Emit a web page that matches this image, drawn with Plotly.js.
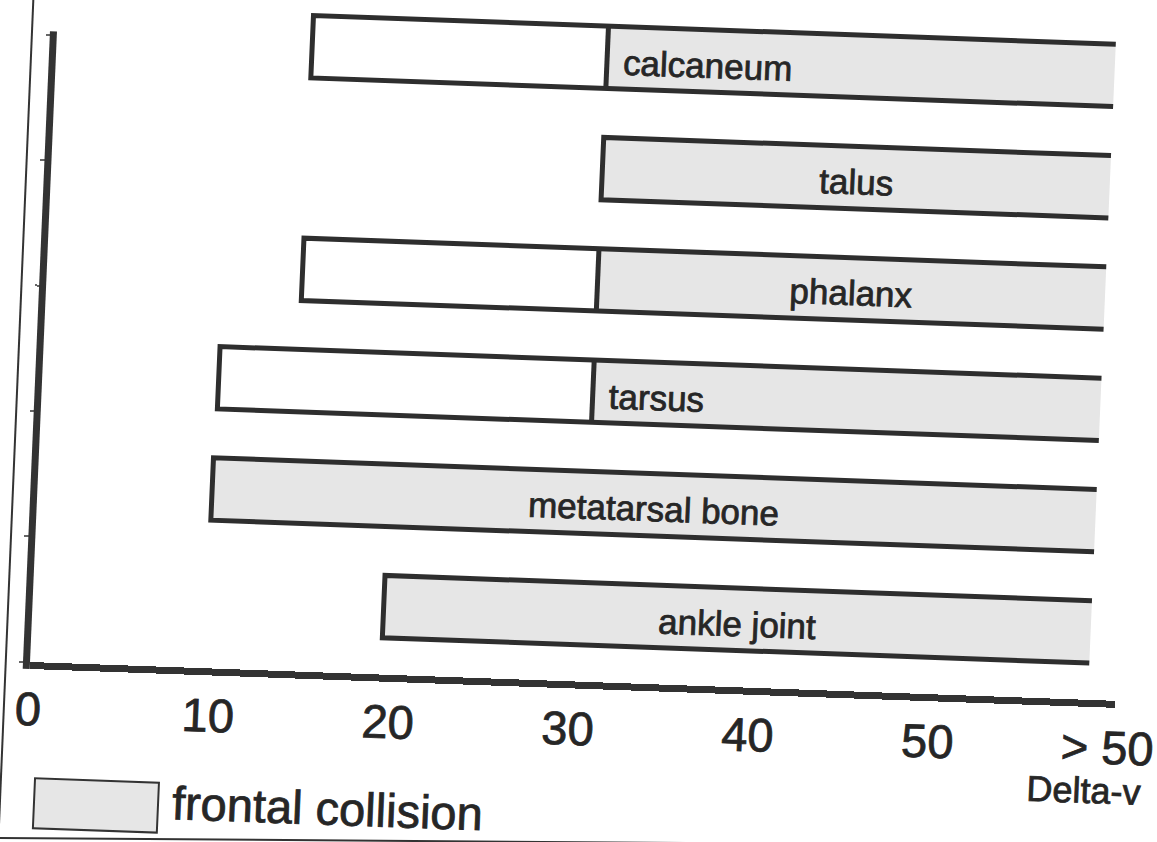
<!DOCTYPE html>
<html><head><meta charset="utf-8">
<script src="https://cdn.plot.ly/plotly-3.0.1.min.js"></script>
<style>
html,body{margin:0;padding:0;background:#fff;overflow:hidden;width:1157px;height:842px}
#chart{width:1157px;height:842px;transform-origin:30px 662px;transform:matrix(0.99936,0.03577,-0.04275,0.99909,0,0);}
#chart svg text{stroke:#262626;stroke-width:0.8px;paint-order:stroke;}
</style></head><body><div id="chart"></div>
<script>
// ---- data ----
const categories   = ['ankle joint', 'metatarsal bone', 'tarsus', 'phalanx', 'talus', 'calcaneum'];
const otherStart   = [null, null, 9.8, 14.2, null, 14.2];   // white segment start
const frontalStart = [19.5, 9.7, 30.6, 30.6, 30.6, 30.6];   // grey (frontal collision) start
const frontalEnd   = [58.8, 58.8, 58.8, 58.8, 58.8, 58.8];  // "> 50"
const xTickVals = [0, 10, 20, 30, 40, 50, 60];
const xTickText = ['0', '10', '20', '30', '40', '50', '> 50'];
const legendLabel = 'frontal collision';
const xAxisLabel = 'Delta-v';
const labelAlign = ['center', 'center', 'left', 'center', 'center', 'left'];

// ---- layout geometry ----
const W = 1086, AXH = 631, H = 662;
const BW = 0.56;
const FONT = 'Liberation Sans, Arial, Helvetica, sans-serif';
const INK = '#262626';
const GREY = '#e6e6e6';
const px = u => u / W;
const py = v => -v / H;
const idx = categories.map((c, i) => i);

const whiteTrace = {
  type: 'bar', orientation: 'h', y: idx,
  base: otherStart,
  x: otherStart.map((s, i) => s == null ? null : frontalStart[i] - s),
  width: BW, marker: {color: '#ffffff', line: {width: 0}},
  showlegend: false, hoverinfo: 'skip'
};
const greyTrace = {
  type: 'bar', orientation: 'h', y: idx, name: legendLabel,
  base: frontalStart,
  x: frontalEnd.map((e, i) => e - frontalStart[i]),
  width: BW, marker: {color: GREY, line: {width: 0}},
  showlegend: false,
  customdata: categories, hovertemplate: '%{customdata}<extra></extra>'
};

// outlines: open on the right end
const ox = [], oy = [];
categories.forEach((c, i) => {
  const start = otherStart[i] != null ? otherStart[i] : frontalStart[i];
  const top = i + BW / 2, bot = i - BW / 2;
  ox.push(frontalEnd[i], start, start, frontalEnd[i], null);
  oy.push(top, top, bot, bot, null);
  if (otherStart[i] != null) {
    ox.push(frontalStart[i], frontalStart[i], null);
    oy.push(top, bot, null);
  }
});
const outline = {
  type: 'scatter', mode: 'lines', x: ox, y: oy,
  line: {color: '#2e2e2e', width: 5},
  showlegend: false, hoverinfo: 'skip', connectgaps: false
};

const annotations = categories.map((c, i) => {
  const left = labelAlign[i] === 'left';
  return {
    x: left ? frontalStart[i] + 0.8 : (frontalStart[i] + frontalEnd[i]) / 2,
    y: i, xref: 'x', yref: 'y', text: c, showarrow: false,
    xanchor: left ? 'left' : 'center', yanchor: 'middle', yshift: -4,
    font: {family: FONT, size: 35, color: INK}
  };
});
annotations.push({
  x: px(1058), y: py(90), xref: 'paper', yref: 'paper', text: xAxisLabel,
  showarrow: false, xanchor: 'center', yanchor: 'middle',
  font: {family: FONT, size: 36, color: INK}
});
annotations.push({
  x: px(146), y: py(135), xref: 'paper', yref: 'paper', text: legendLabel,
  showarrow: false, xanchor: 'left', yanchor: 'middle',
  font: {family: FONT, size: 47, color: INK}
});

const shapes = [
  // y axis line (stops at the top tick)
  {type: 'line', xref: 'paper', yref: 'paper', x0: px(-3.5), x1: px(-3.5), y0: py(7), y1: py(-AXH),
   line: {color: '#333', width: 7}},
  // legend swatch
  {type: 'rect', xref: 'paper', yref: 'paper', x0: px(10), x1: px(134), y0: py(116), y1: py(166),
   fillcolor: GREY, line: {color: '#333', width: 2}},
  // scanned page border (left and bottom)
  {type: 'line', xref: 'paper', yref: 'paper', x0: px(-25), x1: px(-24), y0: py(-665), y1: py(185),
   line: {color: '#333', width: 2}},
  {type: 'line', xref: 'paper', yref: 'paper', x0: px(-25), x1: px(1100), y0: py(177), y1: py(145),
   line: {color: '#333', width: 2}}
];

const y0 = -0.6104, unit = 111.4;
const yTickVals = [0, 1, 2, 3, 4, 5].map(k => y0 + k * 125.5 / unit);

const layout = {
  width: 1157, height: 842,
  margin: {l: 30, r: 1157 - 30 - W, t: 842 - 180 - H, b: 180},
  paper_bgcolor: 'rgba(0,0,0,0)', plot_bgcolor: 'rgba(0,0,0,0)',
  barmode: 'overlay', showlegend: false,
  xaxis: {
    range: [0, W / 18], tickvals: xTickVals, ticktext: xTickText,
    showgrid: false, zeroline: false, showline: true, linewidth: 7, linecolor: '#333',
    ticks: '', ticklabelstandoff: 0,
    tickfont: {family: FONT, size: 47, color: INK}, fixedrange: true
  },
  yaxis: {
    range: [y0, y0 + H / unit], tickvals: yTickVals, showticklabels: false,
    showgrid: false, zeroline: false, showline: false,
    ticks: 'outside', ticklen: 10, tickwidth: 1.5, tickcolor: '#666', fixedrange: true
  },
  annotations: annotations, shapes: shapes
};

Plotly.newPlot('chart', [whiteTrace, greyTrace, outline], layout, {displayModeBar: false, responsive: false});
</script></body></html>
